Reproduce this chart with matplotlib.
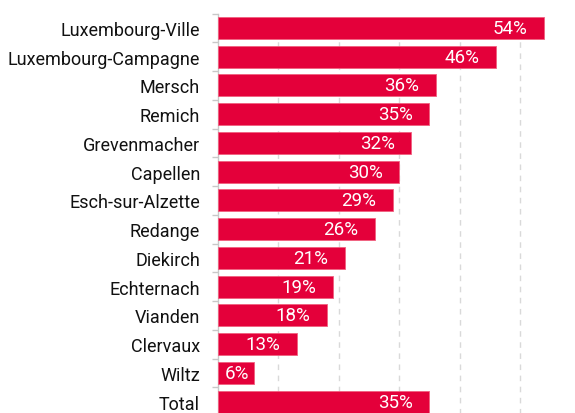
import numpy as np
import matplotlib.pyplot as plt
from matplotlib.ticker import FixedLocator

plt.rc("font", family=["Roboto", "DejaVu Sans"], size=12)

cantons = ["Luxembourg-Ville", "Luxembourg-Campagne", "Mersch", "Remich",
           "Grevenmacher", "Capellen", "Esch-sur-Alzette", "Redange",
           "Diekirch", "Echternach", "Vianden", "Clervaux", "Wiltz", "Total"]
shares = [54, 46, 36, 35, 32, 30, 29, 26, 21, 19, 18, 13, 6, 35]

red = "#e4003a"
grey = "#c8c8c8"

fig = plt.figure(figsize=(5.75, 4.14), dpi=100)
# axes box in pixels: left 218, right 560, top 14.5, bottom 417
W, H = 575, 414
ax = fig.add_axes([218 / W, (H - 417) / H, (560 - 218) / W, (417 - 14.5) / H])

y = np.arange(len(cantons))
ax.barh(y, shares, height=0.77, color=red, edgecolor="#f0607f", linewidth=0.6, zorder=3)

for yi, v in zip(y, shares):
    pad = -12 if v >= 10 else -3.5
    ax.annotate(f"{v}%", xy=(v, yi), xytext=(pad, 0), textcoords="offset points",
                ha="right", va="center", color="white", fontsize=13.5, zorder=4)

ax.set_xlim(0, 56.6)
ax.set_ylim(len(cantons) - 0.5, -0.5)

ax.set_yticks(y)
ax.set_yticklabels(cantons, fontsize=13, color="#111111")
ax.tick_params(axis="y", which="major", length=0, pad=13)
ax.yaxis.set_minor_locator(FixedLocator(np.arange(len(cantons)) - 0.5))
ax.tick_params(axis="y", which="minor", length=4, color=grey, width=1)

ax.set_xticks([10, 20, 30, 40, 50])
ax.tick_params(axis="x", length=0, labelbottom=False)
ax.grid(axis="x", color="#d9d9d9", linestyle=(0, (4, 4)), linewidth=1, zorder=0)

for s in ["top", "right", "bottom"]:
    ax.spines[s].set_visible(False)
ax.spines["left"].set_color(grey)
ax.spines["left"].set_linewidth(1)

fig.savefig("out.png", dpi=100)
